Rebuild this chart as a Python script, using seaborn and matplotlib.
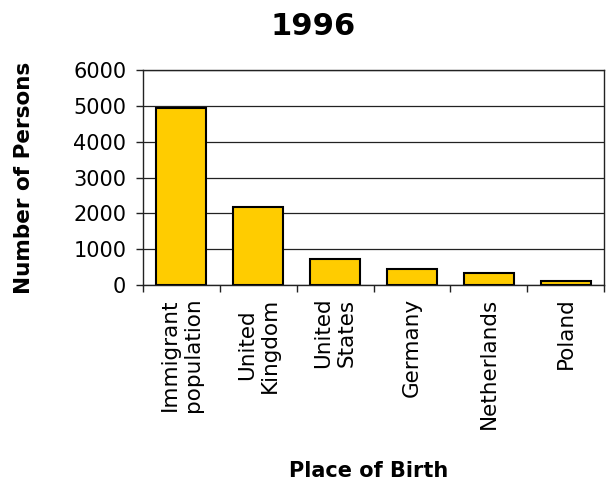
import matplotlib
matplotlib.use("Agg")
import matplotlib.pyplot as plt
import seaborn as sns
import pandas as pd

places = ["Immigrant\npopulation", "United\nKingdom", "United\nStates",
          "Germany", "Netherlands", "Poland"]
persons = [4950, 2170, 720, 450, 340, 120]
yticks = [0, 1000, 2000, 3000, 4000, 5000, 6000]

df = pd.DataFrame({"place": places, "persons": persons})

sns.set_style("white")
plt.rcParams["font.family"] = ["DejaVu Sans"]
plt.rcParams["text.color"] = "black"
plt.rcParams["xtick.color"] = "black"
plt.rcParams["ytick.color"] = "black"

fig = plt.figure(figsize=(6.14, 4.83), dpi=100)
ax = fig.add_axes([143 / 614, 1 - 285 / 483, 461 / 614, 215 / 483])

sns.barplot(data=df, x="place", y="persons", color="#FFCC00",
            edgecolor="black", linewidth=1.5, width=0.65, saturation=1, ax=ax)

ax.set_ylim(0, 6000)
ax.set_xlim(-0.5, len(places) - 0.5)
ax.set_yticks(yticks)
ax.yaxis.grid(True, color="#222222", linewidth=0.9)
ax.set_axisbelow(True)
for s in ax.spines.values():
    s.set_color("#222222")
    s.set_linewidth(1.0)

ax.tick_params(axis="y", which="major", left=True, length=5, width=1,
               color="#222222", labelsize=15, pad=7)
ax.set_xticks(range(len(places)))
ax.set_xticklabels(places, rotation=90, ha="center", va="top",
                   multialignment="center", fontsize=15.5)
ax.tick_params(axis="x", which="major", length=0, pad=9)
ax.set_xticks([i - 0.5 for i in range(len(places) + 1)], minor=True)
ax.tick_params(axis="x", which="minor", bottom=True, length=5, width=1,
               color="#222222")

ax.set_xlabel("")
ax.set_ylabel("")
fig.text(24 / 614, 1 - 178 / 483, "Number of Persons",
         rotation=90, ha="center", va="center", fontsize=15.5, fontweight="bold")
fig.text(369 / 614, 1 - 481 / 483, "Place of Birth", ha="center",
         va="bottom", fontsize=15, fontweight="bold")
fig.text(313 / 614, 1 - 12 / 483, "1996", ha="center", va="top",
         fontsize=22, fontweight="bold")

fig.savefig("out.png", dpi=100)
